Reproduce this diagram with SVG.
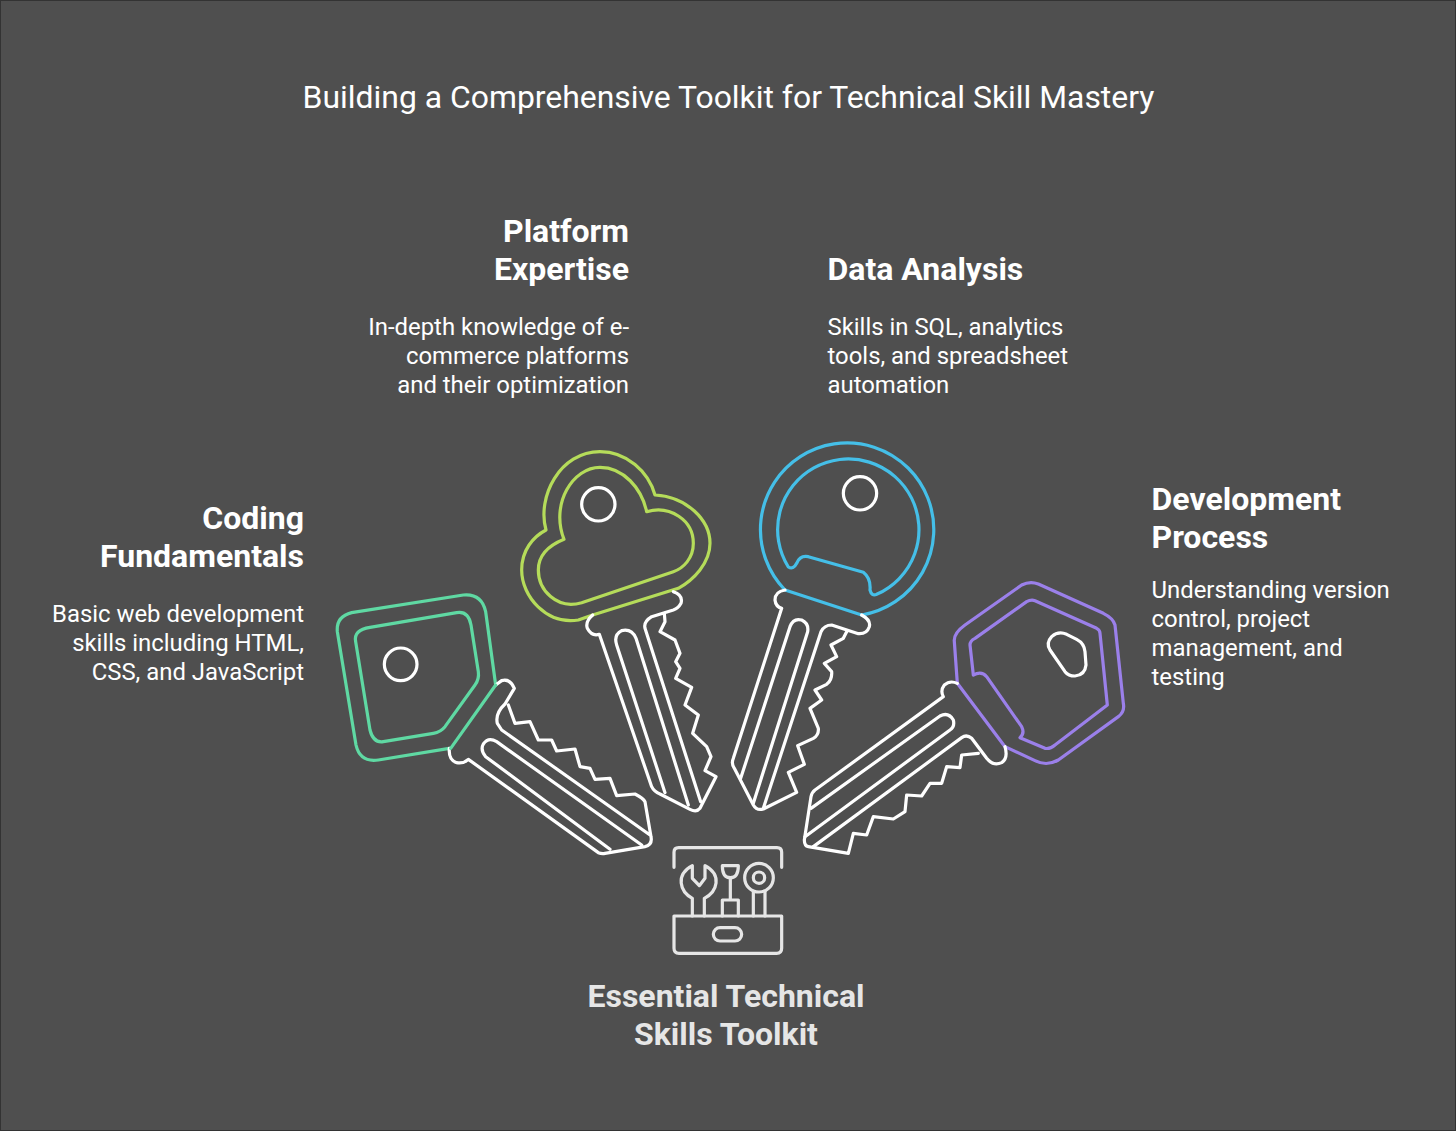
<svg xmlns="http://www.w3.org/2000/svg" width="1456" height="1131" viewBox="0 0 1456 1131">
<style>
text{font-family:Roboto,"Liberation Sans",sans-serif;fill:#fff}
.title{font-size:31.9px;font-weight:400}
.h{font-size:32px;font-weight:700}
.b{font-size:23.9px;font-weight:400}
.e{text-anchor:end}
.m{text-anchor:middle}
.s{fill:none;stroke-width:3.2;stroke-linejoin:round;stroke-linecap:round;vector-effect:non-scaling-stroke}
.w{stroke:#fff}
.t{stroke:#e6e6e6}
.g{stroke:#5fd9a3}
.l{stroke:#b5dc5a}
.c{stroke:#45bfe8}
.p{stroke:#9b80ea}
</style>
<rect x="0.5" y="0.5" width="1455" height="1130" fill="#4f4f4f" stroke="#333"/>
<text class="title" x="728.500" y="108" text-anchor="middle">Building a Comprehensive Toolkit for Technical Skill Mastery</text>
<g id="key-coding">
<g transform="translate(320 570) scale(.33333)">
<path class="s g" d="M388 535L175 570Q120 578 108 525L52 185Q48 140 95 128L430 75Q485 70 497 125L527 345"/>
<path class="s g" d="M190 515L340 490Q362 486 375 470L465 345Q478 328 475 305L453 165Q445 122 410 128L150 172Q100 180 107 215L150 480Q160 520 190 515Z"/>
<circle class="s w" cx="242" cy="283" r="49"/>
<path class="s w" d="M388 535Q385 570 410 578Q430 582 445 568L835 848Q845 852 855 850L975 830Q998 825 993 800L975 695Q970 685 945 672L890 677L870 625L825 628L810 595L780 590L765 537L710 543L695 510L655 510L630 455L585 460L565 405M527 345L545 332Q570 325 583 355L555 402Q525 430 532 460L545 480L990 795"/>
<path class="s g" d="M527 345L392 535"/>
<path class="s w" d="M870 838L497 560Q480 540 490 522Q505 500 530 515L965 825"/>
</g>
<text class="h e" x="304" y="529">Coding</text>
<text class="h e" x="304" y="567">Fundamentals</text>
<text class="b e" x="304" y="622">Basic web development</text>
<text class="b e" x="304" y="651">skills including HTML,</text>
<text class="b e" x="304" y="679.500">CSS, and JavaScript</text>
</g>
<g id="key-platform">
<g transform="translate(510 440) scale(.33333)">
<path class="s l" d="M248 525L205 540C110 555 35 470 35 390C35 330 70 290 108 270C80 170 150 35 270 35C350 35 415 95 435 165C530 170 600 240 600 310C600 370 550 420 505 445Z"/>
<path class="s l" d="M162 298C120 190 190 82 270 82C340 82 395 145 410 215C480 195 550 240 550 310C550 355 520 385 490 395L215 488C140 510 85 450 85 390C85 345 120 315 162 298Z"/>
<circle class="s w" cx="265" cy="193" r="50"/>
<path class="s w" d="M248 525Q225 545 232 565Q245 590 268 583L425 1040Q432 1055 450 1062L540 1108Q560 1118 570 1105L618 1010L585 992L603 950L590 920L548 880L565 825L525 795L545 742L497 715L510 685L497 665L510 640L495 600L450 575L465 545L463 520M490 455Q520 465 513 490Q505 505 490 510L425 530Q400 545 405 565L572 1085"/>
<path class="s w" d="M465 1058L320 615Q310 585 335 572Q365 565 378 595L535 1095"/>
</g>
<text class="h e" x="629" y="242">Platform</text>
<text class="h e" x="629" y="280">Expertise</text>
<text class="b e" x="629" y="335">In-depth knowledge of e-</text>
<text class="b e" x="629" y="364">commerce platforms</text>
<text class="b e" x="629" y="392.500">and their optimization</text>
</g>
<g id="key-data">
<g transform="translate(725 435) scale(.33333)">
<path class="s c" d="M180 465A260 260 0 1 1 410 540Z"/>
<path class="s c" d="M190 396A212 212 0 1 1 455 478Q440 485 435 465Q438 430 415 412L250 365Q225 360 215 385Q205 405 190 396Z"/>
<circle class="s w" cx="405" cy="175" r="50"/>
<path class="s w" d="M180 465Q150 470 150 495Q152 515 170 520L25 970Q18 985 28 1000L85 1110Q95 1128 115 1122L215 1072L190 1012L238 988L218 932L265 910Q282 900 280 880L255 820L290 795L270 765L305 748Q322 735 320 710L298 685L335 665L318 630L355 610L365 590M410 540Q438 555 433 575Q425 598 400 596L320 570Q298 570 288 590L115 1120"/>
<path class="s w" d="M47 1030L195 575Q205 548 230 555Q252 565 248 590L85 1105"/>
</g>
<text class="h" x="827.500" y="280">Data Analysis</text>
<text class="b" x="827.500" y="335">Skills in SQL, analytics</text>
<text class="b" x="827.500" y="364">tools, and spreadsheet</text>
<text class="b" x="827.500" y="392.500">automation</text>
</g>
<g id="key-development">
<g transform="translate(795 570) scale(.33333)">
<path class="s p" d="M630 530L720 572Q755 590 790 570L970 440Q990 425 985 400L960 165Q955 145 925 130L730 42Q705 32 680 45L510 165Q475 190 478 215L487 340Z"/>
<path class="s p" d="M535 315L525 225Q525 212 540 205L695 95Q708 88 720 92L905 175Q915 180 915 190L937 405L780 525Q765 538 750 535L675 503Q690 490 680 470L575 320Q560 302 535 315Z"/>
<path class="s w" d="M770 200Q790 182 815 193L845 208Q868 220 870 245L873 285Q870 315 840 318Q820 318 810 305L765 240Q752 220 770 200Z"/>
<path class="s w" d="M487 340Q465 330 448 345Q435 362 445 380L60 660Q50 668 48 680L28 810Q28 828 40 830L160 850L175 790L215 795L235 740L295 747L330 725L335 675L380 678L405 640L440 640L455 590L495 593L500 555L550 550M630 530Q640 565 620 578Q595 590 575 565L530 505Q515 492 500 503L55 830"/>
<path class="s w" d="M48 715L435 438Q460 425 475 450Q480 470 465 480L30 800"/>
</g>
<text class="h" x="1151.500" y="510">Development</text>
<text class="h" x="1151.500" y="548">Process</text>
<text class="b" x="1151.500" y="598">Understanding version</text>
<text class="b" x="1151.500" y="627">control, project</text>
<text class="b" x="1151.500" y="655.500">management, and</text>
<text class="b" x="1151.500" y="684.500">testing</text>
</g>
<g id="toolkit">
<g transform="translate(660 835) scale(.33333)">
<path class="s t" d="M42 97V52Q42 38 56 38H351Q365 38 365 52V97"/>
<path class="s t" d="M42 243H365V340Q365 355 350 355H57Q42 355 42 340Z"/>
<rect class="s t" x="160" y="278" width="85" height="40" rx="20"/>
<path class="s t" d="M97 243V190C60 170 45 120 97 92V130L118 152L135 130V92C187 120 172 170 133 190V243"/>
<path class="s t" d="M187 243V195H235V243M211 195V128C195 128 187 115 187 92H235C235 115 227 128 211 128"/>
<circle class="s t" cx="297" cy="128" r="43"/>
<circle class="s t" cx="297" cy="128" r="17"/>
<path class="s t" d="M280 170V243M315 170V243"/>
</g>
<text class="h m" x="726" y="1007" style="fill:#e6e6e6">Essential Technical</text>
<text class="h m" x="726" y="1045" style="fill:#e6e6e6">Skills Toolkit</text>
</g>
</svg>
